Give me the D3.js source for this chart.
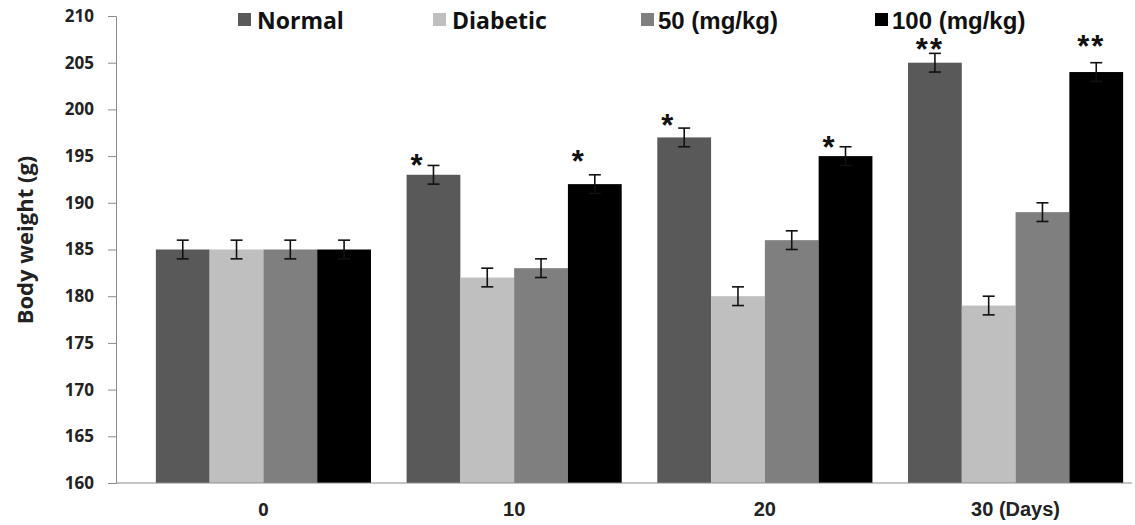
<!DOCTYPE html>
<html>
<head>
<meta charset="utf-8">
<script src="https://cdn.jsdelivr.net/npm/d3@7"></script>
<style>
  body { margin: 0; background: #fff; }
  svg { display: block; }
</style>
</head>
<body>
<svg id="chart" width="1135" height="525"></svg>
<script>
// chart data
var days = ["0", "10", "20", "30 (Days)"];
var groups = ["Normal", "Diabetic", "50 (mg/kg)", "100 (mg/kg)"];
var colors = ["#595959", "#bfbfbf", "#7f7f7f", "#000000"];
var normal   = [185, 193, 197, 205];
var diabetic = [185, 182, 180, 179];
var dose50   = [185, 183, 186, 189];
var dose100  = [185, 192, 195, 204];
var errors   = [1, 1, 1, 1];
// significance marks: day index, group index, label, height (g) where it sits
var markDay   = [1, 1, 2, 2, 3, 3];
var markGroup = [0, 3, 0, 3, 0, 3];
var markText  = ["*", "*", "*", "*", "**", "**"];
var markAt    = [194.8, 195.2, 199.1, 196.7, 207.2, 207.5];
var yTicks = [160, 165, 170, 175, 180, 185, 190, 195, 200, 205, 210];

var series = [normal, diabetic, dose50, dose100];

var svg = d3.select("#chart");
var calibri = "'Open Sans', Lato, sans-serif";
var arial = "'Liberation Sans', Arial, sans-serif";

var y = d3.scaleLinear().domain([160, 210]).range([483, 16]);

var x0 = d3.scaleBand()
    .domain(days)
    .range([116, 1163])
    .paddingInner(0.142)
    .paddingOuter(0.159);

var x1 = d3.scaleBand()
    .domain(d3.range(groups.length))
    .range([0, x0.bandwidth()]);

// y axis
var yAxis = svg.append("g")
    .attr("transform", "translate(116,0)")
    .call(d3.axisLeft(y).tickValues(yTicks).tickSize(8).tickPadding(14));
yAxis.select(".domain").attr("stroke", "#8c8c8c");
yAxis.selectAll(".tick line").attr("stroke", "#8c8c8c");
yAxis.selectAll("text")
    .attr("font-family", calibri)
    .attr("font-weight", "bold")
    .attr("font-size", 17)
    .attr("fill", "#222");

// bars
var dayG = svg.selectAll(".day")
    .data(days)
    .enter()
    .append("g")
    .attr("class", "day")
    .attr("transform", d => "translate(" + x0(d) + ",0)");

dayG.selectAll("rect")
    .data((d, i) => series.map((s, j) => ({ g: j, v: s[i] })))
    .enter()
    .append("rect")
    .attr("x", d => x1(d.g))
    .attr("y", d => y(d.v))
    .attr("width", x1.bandwidth())
    .attr("height", d => y(160) - y(d.v))
    .attr("fill", d => colors[d.g]);

// error bars
var err = dayG.selectAll(".err")
    .data((d, i) => series.map((s, j) => ({ g: j, v: s[i], e: errors[i] })))
    .enter()
    .append("g")
    .attr("class", "err")
    .attr("stroke", "#111")
    .attr("stroke-width", 1.6);

var cx = d => x1(d.g) + x1.bandwidth() / 2;
err.append("line")
    .attr("x1", cx).attr("x2", cx)
    .attr("y1", d => y(d.v + d.e))
    .attr("y2", d => y(d.v - d.e));
err.append("line")
    .attr("x1", d => cx(d) - 6).attr("x2", d => cx(d) + 6)
    .attr("y1", d => y(d.v + d.e))
    .attr("y2", d => y(d.v + d.e));
err.append("line")
    .attr("x1", d => cx(d) - 6).attr("x2", d => cx(d) + 6)
    .attr("y1", d => y(d.v - d.e))
    .attr("y2", d => y(d.v - d.e));

// significance asterisks (placed a little left of bar centre, like the original)
svg.selectAll(".mark")
    .data(markText)
    .enter()
    .append("text")
    .attr("class", "mark")
    .attr("x", (t, i) => x0(days[markDay[i]]) + x1(markGroup[i]) + x1.bandwidth() / 2 + (t === "**" ? -5 : -17))
    .attr("y", (t, i) => y(markAt[i]) + 18)
    .attr("text-anchor", "middle")
    .attr("font-family", arial)
    .attr("font-weight", "bold")
    .attr("font-size", 31)
    .attr("letter-spacing", t => t === "**" ? 2 : 0)
    .attr("fill", "#111")
    .text(t => t);

// x axis
svg.append("line")
    .attr("x1", 116).attr("x2", 1132)
    .attr("y1", y(160)).attr("y2", y(160))
    .attr("stroke", "#8c8c8c");

svg.selectAll(".xlab")
    .data(days)
    .enter()
    .append("text")
    .attr("class", "xlab")
    .attr("x", d => x0(d) + x0.bandwidth() / 2)
    .attr("y", 516)
    .attr("text-anchor", "middle")
    .attr("font-family", (d, i) => i === 0 ? calibri : arial)
    .attr("font-weight", "bold")
    .attr("font-size", (d, i) => i === 0 ? 18 : 20)
    .attr("fill", "#222")
    .text(d => d);

// y axis title
svg.append("text")
    .attr("transform", "translate(33,240) rotate(-90)")
    .attr("text-anchor", "middle")
    .attr("font-family", calibri)
    .attr("font-weight", "bold")
    .attr("font-size", 22)
    .attr("fill", "#222")
    .text("Body weight (g)");

// legend
var legendX = [238, 433, 641, 875];
var legend = svg.selectAll(".legend")
    .data(groups)
    .enter()
    .append("g")
    .attr("class", "legend")
    .attr("transform", (d, i) => "translate(" + legendX[i] + ",29)");

legend.append("rect")
    .attr("x", 0).attr("y", -16)
    .attr("width", 13).attr("height", 13)
    .attr("fill", (d, i) => colors[i]);

legend.append("text")
    .attr("x", (d, i) => i < 2 ? 19 : 17)
    .attr("y", 0)
    .attr("font-family", (d, i) => i < 2 ? calibri : arial)
    .attr("font-weight", "bold")
    .attr("font-size", (d, i) => i < 2 ? 23 : 24)
    .attr("fill", "#111")
    .text(d => d);
</script>
</body>
</html>
